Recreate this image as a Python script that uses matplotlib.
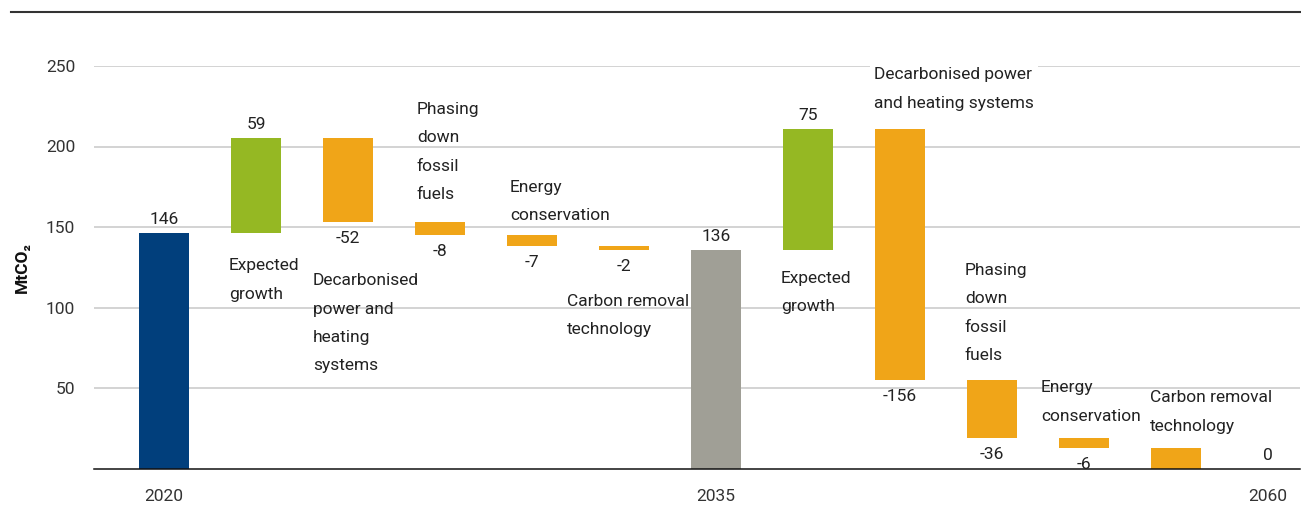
import numpy as np
import matplotlib
matplotlib.use('Agg')
import matplotlib.pyplot as plt
from matplotlib import font_manager
from matplotlib.lines import Line2D

# pick a narrow sans if there is one
names = set(f.name for f in font_manager.fontManager.ttflist)
fam = 'DejaVu Sans'
for cand in ['Liberation Sans Narrow', 'DejaVu Sans Condensed', 'Roboto', 'Liberation Sans']:
    if cand in names:
        fam = cand
        break
plt.rcParams['font.family'] = [fam, 'DejaVu Sans']

# data
steps = ['2020', 'Expected\ngrowth', 'Decarbonised\npower and\nheating\nsystems',
         'Phasing\ndown\nfossil\nfuels', 'Energy\nconservation', 'Carbon removal\ntechnology',
         '2035', 'Expected\ngrowth', 'Decarbonised power\nand heating systems',
         'Phasing\ndown\nfossil\nfuels', 'Energy\nconservation', 'Carbon removal\ntechnology',
         '2060']
change = [146, 59, -52, -8, -7, -2, 136, 75, -156, -36, -6, -13, 0]
is_total = [True, False, False, False, False, False, True, False, False, False, False, False, True]
value_labels = ['146', '59', '-52', '-8', '-7', '-2', '136', '75', '-156', '-36', '-6', '', '0']
year_ticks = [0, 6, 12]
year_labels = ['2020', '2035', '2060']

c_total1 = '#013f7c'
c_total2 = '#a09f96'
c_up = '#95b823'
c_down = '#f0a518'
txt = '#222222'
fs = 12.5

# waterfall bottoms / tops
bottoms = []
tops = []
level = 0
for v, t in zip(change, is_total):
    if t:
        level = v
        bottoms.append(0)
        tops.append(v)
    else:
        new = level + v
        bottoms.append(min(level, new))
        tops.append(max(level, new))
        level = new

colors = []
for i, (v, t) in enumerate(zip(change, is_total)):
    if t:
        colors.append(c_total1 if i == 0 else c_total2)
    elif v > 0:
        colors.append(c_up)
    else:
        colors.append(c_down)

fig = plt.figure(figsize=(13.01, 5.08), dpi=100)
ax = fig.add_axes([94/1301, (508-468.5)/508, 1206/1301, (468.5-66)/508])

x = np.arange(len(steps))
w = 0.545
heights = np.array(tops) - np.array(bottoms)
ax.bar(x, heights, bottom=bottoms, width=w, color=colors, zorder=3)

ax.set_xlim(-0.761, 12.348)
ax.set_ylim(0, 250)
ax.set_yticks([50, 100, 150, 200, 250])
ax.yaxis.grid(True, color='#c8c8c8', lw=1.1, zorder=0)
for s in ['top', 'right', 'left']:
    ax.spines[s].set_visible(False)
ax.spines['bottom'].set_color('#111111')
ax.spines['bottom'].set_linewidth(1.1)
ax.spines['bottom'].set_zorder(4)
ax.tick_params(axis='y', length=0, pad=13.5, labelsize=fs, labelcolor='#333333')
ax.set_xticks(year_ticks)
ax.set_xticklabels(year_labels)
ax.tick_params(axis='x', length=0, pad=15, labelsize=fs, labelcolor='#333333')

ax.set_ylabel('MtCO\u2082', fontsize=fs, fontweight='bold', color='#111111')
ax.yaxis.set_label_coords(-0.053, 0.5)

# value labels
for i in range(len(steps)):
    if value_labels[i] == '':
        continue
    if is_total[i] or change[i] > 0:
        ax.annotate(value_labels[i], (x[i], tops[i]), xytext=(0, 6), textcoords='offset pixels',
                    ha='center', va='bottom', fontsize=fs, color=txt, zorder=5)
    else:
        ax.annotate(value_labels[i], (x[i], bottoms[i]), xytext=(0, -9), textcoords='offset pixels',
                    ha='center', va='top', fontsize=fs, color=txt, zorder=5)

# step names: where they go (above/below the bar, offsets in px)
place = {1: ('below', -2, -25), 2: ('below', -10, -51), 3: ('above', 2, 20),
         4: ('above', 3, 12), 5: ('below', -32, -44), 7: ('below', -2, -21),
         8: ('above', -1, 18), 9: ('above', -2, 17), 10: ('above', -18, 14),
         11: ('above', -1, 14)}
for i, (pos, dx, dy) in place.items():
    xl = x[i] - w / 2
    if pos == 'above':
        t = ax.annotate(steps[i], (xl, tops[i]), xytext=(dx, dy), textcoords='offset pixels',
                        ha='left', va='bottom', fontsize=fs, color=txt, linespacing=2.12, zorder=5)
    else:
        t = ax.annotate(steps[i], (xl, bottoms[i]), xytext=(dx, dy), textcoords='offset pixels',
                        ha='left', va='top', fontsize=fs, color=txt, linespacing=2.12, zorder=5)
    if i == 8:
        t.set_bbox(dict(facecolor='white', edgecolor='none', pad=3))
    t.set_annotation_clip(False)

fig.add_artist(Line2D([11/1301, 1300/1301], [1 - 12/508, 1 - 12/508], color='#333333', lw=1.5))

plt.savefig('out.png', dpi=100)
